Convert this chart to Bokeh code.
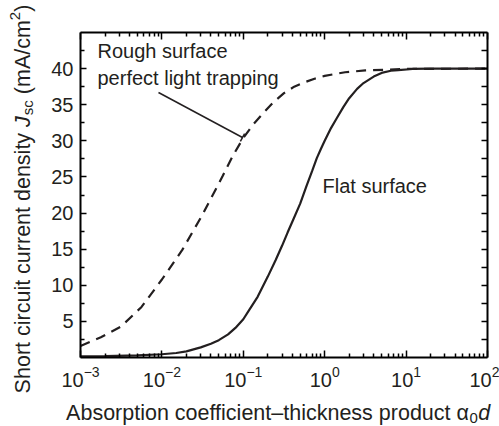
import math
from bokeh.plotting import figure
from bokeh.layouts import row, column
from bokeh.models import (Range1d, FixedTicker, LogAxis, LinearAxis, Label,
                          Arrow, TeeHead)
from bokeh.embed import file_html
from bokeh.resources import INLINE

# ---------------- data ----------------
flat_x = [0.001, 0.002, 0.005, 0.01, 0.015, 0.02, 0.03, 0.04, 0.05, 0.065,
          0.08, 0.1, 0.12, 0.15, 0.2, 0.25, 0.3, 0.35, 0.4, 0.5, 0.6, 0.7,
          0.8, 0.9, 1.0, 1.2, 1.4, 1.7, 2.0, 2.5, 3.0, 4.0, 5.0, 6.5, 8.0,
          12.0, 20.0, 100.0]
flat_y = [0.15, 0.2, 0.3, 0.45, 0.62, 0.85, 1.4, 1.9, 2.4, 3.2,
          4.1, 5.3, 6.7, 8.4, 11.2, 13.5, 15.5, 17.3, 18.8, 21.3, 23.8, 25.8,
          27.6, 28.9, 30.0, 31.8, 33.1, 34.7, 35.9, 37.2, 38.0, 38.9, 39.4,
          39.7, 39.8, 39.95, 40.0, 40.0]

rough_x = [0.001, 0.00178, 0.00316, 0.00562, 0.01, 0.0178, 0.0316, 0.0562,
           0.075, 0.1, 0.133, 0.178, 0.237, 0.316, 0.422, 0.562, 0.75, 1.0,
           1.78, 3.16, 10.0, 100.0]
rough_y = [1.6, 2.8, 4.3, 7.0, 10.8, 14.9, 19.8, 25.2,
           28.0, 30.4, 32.3, 33.9, 35.4, 36.6, 37.5, 38.1, 38.6, 39.0,
           39.5, 39.75, 39.95, 40.0]

x_decades = [1e-3, 1e-2, 1e-1, 1e0, 1e1, 1e2]
y_ticks = [5, 10, 15, 20, 25, 30, 35, 40]
y_minor = [2.5, 7.5, 12.5, 17.5, 22.5, 27.5, 32.5, 37.5, 42.5]

label_rough_1 = "Rough surface"
label_rough_2 = "perfect light trapping"
label_flat = "Flat surface"
x_title_main, x_title_sub, x_title_var = "Absorption coefficient–thickness product α", "0", "d"
y_title_main, y_title_var, y_title_sub = "Short circuit current density", "J", "sc"
y_title_unit, y_title_sup, y_title_close = "(mA/cm", "2", ")"

# ---------------- layout ----------------
W, H = 499, 426
LEFT_W = 40                       # strip holding the y-axis title
BOTTOM_H = 30                     # strip holding the x-axis title
MW, MH = W - LEFT_W, H - BOTTOM_H
FL, FR, FT, FB = 80, 487, 32, 357  # frame edges in canvas px
X_MIN, X_MAX = 1e-3, 1e2
Y_MIN, Y_MAX = 0, 45
FONT = "Liberation Sans"
INK = "#231f20"
TEXT_DY = 7                       # empirical baseline correction


def fx(px):
    lo, hi = math.log10(X_MIN), math.log10(X_MAX)
    return 10 ** (lo + (hi - lo) * (px - FL) / (FR - FL))


def fy(py):
    return Y_MIN + (Y_MAX - Y_MIN) * (FB - py) / (FB - FT)


CW = {' ': 278, 'A': 667, 'S': 667, 'b': 556, 's': 500, 'o': 556, 'r': 333,
      'p': 556, 't': 278, 'i': 222, 'n': 556, 'c': 500, 'e': 556, 'f': 278,
      '–': 556, 'h': 556, 'k': 500, 'd': 556, 'u': 556, 'y': 500, 'J': 500,
      '(': 333, ')': 333, 'm': 833, '/': 278, '2': 556, '0': 556, 'α': 578,
      'a': 556, 'l': 222, 'g': 556}


def tw(s, size):
    return sum(CW.get(c, 556) for c in s) * size / 1000.0


p = figure(width=MW, height=MH, x_axis_type="log", title=None,
           x_range=Range1d(X_MIN, X_MAX), y_range=Range1d(Y_MIN, Y_MAX),
           output_backend="svg", toolbar_location=None,
           min_border_left=FL - LEFT_W, min_border_right=W - FR,
           min_border_top=FT, min_border_bottom=MH - FB)
p.grid.visible = False
p.outline_line_color = None
p.background_fill_color = "white"
p.border_fill_color = "white"

x_minor = [m * d for d in x_decades[:-1] for m in range(2, 10)]


def style_axis(ax, major_in, minor_in, show_labels):
    ax.axis_line_width = 2
    ax.axis_line_color = "black"
    ax.major_tick_in = major_in
    ax.major_tick_out = 0
    ax.minor_tick_in = minor_in
    ax.minor_tick_out = 0
    ax.major_tick_line_width = 1.5
    ax.minor_tick_line_width = 1.5
    ax.major_tick_line_color = "black"
    ax.minor_tick_line_color = "black"
    ax.major_label_text_font = FONT
    ax.major_label_text_color = INK
    if show_labels:
        ax.major_label_text_font_size = "20px"
    else:
        ax.major_label_text_font_size = "1px"
        ax.major_label_text_alpha = 0
        ax.major_label_standoff = 0


xb = p.xaxis[0]
xb.ticker = FixedTicker(ticks=x_decades, minor_ticks=x_minor)
style_axis(xb, 7, 4, True)
xb.major_label_standoff = 8

yl = p.yaxis[0]
yl.ticker = FixedTicker(ticks=y_ticks, minor_ticks=y_minor)
style_axis(yl, 6, 4, True)
yl.major_label_standoff = 7

xt = LogAxis(ticker=FixedTicker(ticks=x_decades, minor_ticks=x_minor))
style_axis(xt, 7, 4, False)
p.add_layout(xt, "above")

yr = LinearAxis(ticker=FixedTicker(ticks=y_ticks + y_minor, minor_ticks=[]))
style_axis(yr, 6, 4, False)
p.add_layout(yr, "right")

# ---------------- curves ----------------
p.line(flat_x, flat_y, line_color=INK, line_width=2.2)
p.line(rough_x, rough_y, line_color=INK, line_width=2.2, line_dash="10 7")

# ---------------- annotations ----------------
TT = dict(text_font=FONT, text_color=INK, text_baseline="alphabetic")
p.add_layout(Label(x=fx(97), y=fy(57 - TEXT_DY), text=label_rough_1,
                   text_font_size="20px", text_align="left", **TT))
p.add_layout(Label(x=fx(97), y=fy(84 - TEXT_DY), text=label_rough_2,
                   text_font_size="20px", text_align="left", **TT))
p.add_layout(Label(x=fx(322), y=fy(192 - TEXT_DY), text=label_flat,
                   text_font_size="20px", text_align="left", **TT))

p.add_layout(Arrow(x_start=fx(158), y_start=fy(92), x_end=fx(242), y_end=fy(137),
                   line_color=INK, line_width=1.5,
                   end=TeeHead(size=9, line_color=INK, line_width=1.5)))


def strip(width, height, x0, x1, y0, y1):
    f = figure(width=width, height=height, x_range=Range1d(x0, x1),
               y_range=Range1d(y0, y1), output_backend="svg", title=None,
               toolbar_location=None, x_axis_location=None,
               y_axis_location=None, min_border_left=0, min_border_right=0,
               min_border_top=0, min_border_bottom=0)
    f.grid.visible = False
    f.outline_line_color = None
    f.background_fill_color = "white"
    f.border_fill_color = "white"
    return f


TS = 21.5
SUB = 15
SP = tw(" ", TS)

# x-axis title strip, full width (coordinates = canvas pixels)
bx = strip(W, BOTTOM_H, 0, W, H, MH)
w_main = tw(x_title_main, TS)
w_sub = tw(x_title_sub, SUB)
w_var = tw(x_title_var, TS)
q = 277 - (w_main + w_sub + w_var) / 2 + w_main
base = 418 - TEXT_DY + 1
bx.add_layout(Label(x=q, y=base, text=x_title_main, text_font_size=f"{TS}px",
                    text_align="right", **TT))
bx.add_layout(Label(x=q + 0.5, y=base + 5, text=x_title_sub,
                    text_font_size=f"{SUB}px", text_align="left", **TT))
bx.add_layout(Label(x=q + w_sub + 1, y=base, text=x_title_var,
                    text_font_size=f"{TS}px", text_font_style="italic",
                    text_align="left", **TT))

# y-axis title strip (rotated; coordinates = canvas pixels)
ly = strip(LEFT_W, MH, 0, LEFT_W, MH, 0)
w_m = tw(y_title_main, TS)
w_J = tw(y_title_var, TS)
w_sc = tw(y_title_sub, SUB)
w_u = tw(y_title_unit, TS)
w_2 = tw(y_title_sup, SUB)
w_c = tw(y_title_close, TS)
total_y = w_m + SP + w_J + w_sc + SP + w_u + w_2 + w_c
start = 199 + total_y / 2
bxl = 27 - TEXT_DY + 2
A = math.pi / 2
P = start - w_m
ly.add_layout(Label(x=bxl, y=P, text=y_title_main, angle=A, text_align="right",
                    text_font_size=f"{TS}px", **TT))
u = P - SP
ly.add_layout(Label(x=bxl, y=u, text=y_title_var, angle=A, text_align="left",
                    text_font_size=f"{TS}px", text_font_style="italic", **TT))
u -= w_J + 1
ly.add_layout(Label(x=bxl + 5, y=u, text=y_title_sub, angle=A, text_align="left",
                    text_font_size=f"{SUB}px", **TT))
u -= w_sc + SP
ly.add_layout(Label(x=bxl, y=u, text=y_title_unit, angle=A, text_align="left",
                    text_font_size=f"{TS}px", **TT))
u -= w_u
ly.add_layout(Label(x=bxl - 8, y=u, text=y_title_sup, angle=A, text_align="left",
                    text_font_size=f"{SUB}px", **TT))
u -= w_2
ly.add_layout(Label(x=bxl, y=u, text=y_title_close, angle=A, text_align="left",
                    text_font_size=f"{TS}px", **TT))

layout = column(row(ly, column(p, spacing=0), spacing=0), bx, spacing=0)
open("out.html", "w").write(file_html(layout, INLINE))
